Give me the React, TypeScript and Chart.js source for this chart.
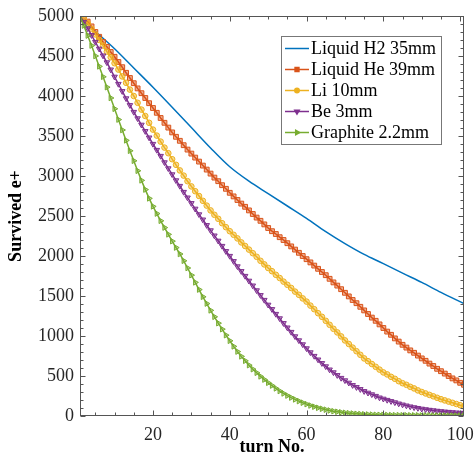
import React, { useEffect, useRef } from "react";
import { Chart, registerables } from "chart.js";
import { drawPoint } from "chart.js/helpers";

Chart.register(...registerables);

const seriesLabels = ["Liquid H2 35mm", "Liquid He 39mm", "Li 10mm", "Be 3mm", "Graphite 2.2mm"];
const seriesColors = ["#0072BD", "#D95319", "#EDB120", "#7E2F8E", "#77AC30"];
const xTickValues = [20, 40, 60, 80, 100];

// turn numbers (every turn 1..101) for the marker series
const turns = Array.from({ length: 101 }, (_, i) => i + 1);

// Liquid H2 (line only) sampled turns and values
const h2Turns = [1, 5, 10, 15, 20, 25, 30, 35, 40, 45, 50, 55, 60, 65, 70, 75, 80, 85, 90, 95, 101];
const h2Values = [5000, 4810, 4590, 4350, 4110, 3860, 3605, 3350, 3115, 2935, 2780, 2625, 2470, 2305, 2155, 2020, 1905, 1785, 1670, 1545, 1405];

const heValues = [
  5000, 4965, 4930, 4870, 4800, 4740, 4675, 4615, 4550, 4490,
  4425, 4360, 4290, 4225, 4160, 4095, 4035, 3975, 3910, 3850,
  3790, 3725, 3665, 3605, 3545, 3490, 3440, 3385, 3330, 3280,
  3230, 3180, 3130, 3080, 3030, 2980, 2935, 2885, 2840, 2790,
  2745, 2700, 2655, 2615, 2570, 2525, 2480, 2440, 2395, 2350,
  2310, 2275, 2235, 2200, 2160, 2120, 2080, 2040, 2000, 1960,
  1920, 1880, 1840, 1800, 1760, 1715, 1670, 1630, 1585, 1540,
  1495, 1450, 1410, 1365, 1320, 1275, 1230, 1190, 1145, 1100,
  1055, 1015, 970, 930, 890, 855, 820, 790, 755, 720,
  690, 655, 625, 590, 560, 530, 500, 470, 445, 415,
  390,
];

const liValues = [
  5000, 4960, 4910, 4840, 4770, 4700, 4630, 4555, 4485, 4410,
  4330, 4245, 4165, 4080, 4000, 3915, 3830, 3750, 3665, 3580,
  3505, 3430, 3355, 3285, 3210, 3140, 3070, 3005, 2935, 2870,
  2810, 2750, 2690, 2630, 2570, 2515, 2465, 2410, 2360, 2310,
  2265, 2220, 2170, 2125, 2080, 2035, 1990, 1940, 1895, 1850,
  1810, 1765, 1725, 1680, 1640, 1600, 1555, 1515, 1470, 1430,
  1380, 1335, 1285, 1240, 1190, 1140, 1090, 1045, 995, 945,
  900, 855, 810, 765, 720, 685, 650, 615, 580, 545,
  520, 490, 465, 435, 410, 390, 365, 345, 320, 300,
  282, 264, 246, 228, 210, 195, 180, 165, 150, 135,
  120,
];

const beValues = [
  5000, 4925, 4845, 4760, 4675, 4590, 4505, 4420, 4330, 4240,
  4150, 4060, 3970, 3885, 3800, 3720, 3640, 3560, 3480, 3400,
  3325, 3250, 3170, 3095, 3020, 2945, 2875, 2800, 2730, 2660,
  2590, 2520, 2455, 2385, 2320, 2255, 2190, 2125, 2060, 2000,
  1935, 1870, 1810, 1750, 1690, 1630, 1570, 1510, 1450, 1390,
  1335, 1275, 1220, 1160, 1105, 1050, 995, 945, 895, 845,
  795, 750, 705, 660, 620, 580, 545, 510, 475, 445,
  415, 385, 360, 335, 310, 290, 270, 250, 230, 215,
  200, 185, 170, 155, 142, 130, 118, 108, 99, 90,
  83, 76, 70, 64, 59, 54, 50, 46, 42, 39,
  36,
];

const graphiteValues = [
  5000, 4880, 4755, 4630, 4500, 4370, 4240, 4110, 3975, 3840,
  3705, 3575, 3445, 3315, 3190, 3065, 2945, 2830, 2720, 2620,
  2530, 2440, 2355, 2270, 2185, 2105, 2025, 1940, 1850, 1760,
  1670, 1580, 1490, 1405, 1320, 1240, 1160, 1085, 1010, 940,
  870, 805, 745, 690, 635, 585, 540, 495, 455, 415,
  380, 345, 312, 282, 255, 230, 207, 186, 166, 148,
  131, 116, 102, 90, 79, 69, 60, 53, 46, 40,
  35, 31, 27, 24, 21, 19, 17, 15, 14, 13,
  12, 11, 10, 10, 9, 9, 8, 8, 8, 7,
  7, 7, 6, 6, 6, 6, 5, 5, 5, 5,
  5,
];

const markerStyles = [
  { pointStyle: false as any, radius: 0, rotation: 0 },
  { pointStyle: "rect", radius: 3.4, rotation: 0 },
  { pointStyle: "circle", radius: 2.8, rotation: 0 },
  { pointStyle: "triangle", radius: 3.2, rotation: 180 },
  { pointStyle: "triangle", radius: 3.2, rotation: 90 },
];

const FONT = "'Liberation Serif', 'Times New Roman', serif";
const AXIS_COLOR = "#555555";

function hexA(hex: string, a: number) {
  const r = parseInt(hex.slice(1, 3), 16);
  const g = parseInt(hex.slice(3, 5), 16);
  const b = parseInt(hex.slice(5, 7), 16);
  return `rgba(${r},${g},${b},${a})`;
}

const framePlugin = {
  id: "frame",
  afterDatasetsDraw(chart: any) {
    const { ctx, chartArea: a, scales } = chart;
    const xs = scales.x;
    const ys = scales.y;
    ctx.save();
    ctx.strokeStyle = AXIS_COLOR;
    ctx.lineWidth = 1;
    const L = Math.round(a.left) + 0.5;
    const R = Math.round(a.right) - 0.5;
    const T = Math.round(a.top) + 0.5;
    const B = Math.round(a.bottom) - 0.5;
    ctx.strokeRect(L, T, R - L, B - T);
    ctx.beginPath();
    for (let v = 0; v <= 5000; v += 100) {
      const py = Math.round(ys.getPixelForValue(v)) + 0.5;
      const len = v % 500 === 0 ? 5 : 3;
      ctx.moveTo(L, py);
      ctx.lineTo(L + len, py);
      ctx.moveTo(R, py);
      ctx.lineTo(R - len, py);
    }
    for (let t = 5; t <= 100; t += 5) {
      const px = Math.round(xs.getPixelForValue(t)) + 0.5;
      const len = t % 20 === 0 ? 5 : 3;
      ctx.moveTo(px, B);
      ctx.lineTo(px, B - len);
      ctx.moveTo(px, T);
      ctx.lineTo(px, T + len);
    }
    ctx.stroke();
    ctx.restore();
  },
};

const legendPlugin = {
  id: "boxLegend",
  afterDraw(chart: any) {
    const { ctx } = chart;
    const left = 281;
    const top = 36;
    const width = 160;
    const height = 108;
    ctx.save();
    ctx.fillStyle = "#ffffff";
    ctx.fillRect(left, top, width, height);
    ctx.strokeStyle = "#777777";
    ctx.lineWidth = 1;
    ctx.strokeRect(left + 0.5, top + 0.5, width, height);
    ctx.font = `18px ${FONT}`;
    ctx.textBaseline = "middle";
    ctx.textAlign = "left";
    chart.data.datasets.forEach((ds: any, i: number) => {
      const y = top + 12.5 + i * 21;
      ctx.strokeStyle = ds.borderColor;
      ctx.lineWidth = 1.5;
      ctx.beginPath();
      ctx.moveTo(left + 4, y);
      ctx.lineTo(left + 28, y);
      ctx.stroke();
      const m = markerStyles[i];
      if (m.pointStyle) {
        ctx.fillStyle = ds.borderColor;
        ctx.strokeStyle = ds.borderColor;
        drawPoint(ctx, { pointStyle: m.pointStyle, radius: m.radius * 0.8, rotation: m.rotation, borderWidth: 1 }, left + 16, y);
      }
      ctx.fillStyle = "#000000";
      ctx.fillText(ds.label, left + 30, y + 1);
    });
    ctx.restore();
  },
};

export default function App() {
  const canvasRef = useRef<HTMLCanvasElement | null>(null);

  useEffect(() => {
    if (!canvasRef.current) return;
    const markerSeries = [heValues, liValues, beValues, graphiteValues];
    const datasets: any[] = [
      {
        label: seriesLabels[0],
        data: h2Turns.map((t, i) => ({ x: t, y: h2Values[i] })),
        borderColor: seriesColors[0],
        backgroundColor: seriesColors[0],
        borderWidth: 1.5,
        pointRadius: 0,
        cubicInterpolationMode: "monotone",
        order: 4,
      },
      ...markerSeries.map((vals, k) => {
        const i = k + 1;
        return {
          label: seriesLabels[i],
          data: turns.map((t, j) => ({ x: t, y: vals[j] })),
          borderColor: seriesColors[i],
          backgroundColor: hexA(seriesColors[i], 0.45),
          pointBorderColor: seriesColors[i],
          pointBackgroundColor: hexA(seriesColors[i], 0.45),
          borderWidth: 1.5,
          pointStyle: markerStyles[i].pointStyle,
          pointRadius: markerStyles[i].radius,
          pointRotation: markerStyles[i].rotation,
          pointBorderWidth: 1,
          tension: 0,
          order: 4 - i,
        };
      }),
    ];

    const chart = new Chart(canvasRef.current, {
      type: "line",
      data: { datasets },
      options: {
        animation: false,
        responsive: false,
        devicePixelRatio: 1,
        layout: { padding: { top: 16, right: 11, left: 0, bottom: 0 } },
        plugins: {
          legend: { display: false },
          tooltip: { enabled: false },
        },
        scales: {
          x: {
            type: "linear",
            min: 1,
            max: 101,
            grid: { display: false, drawTicks: false },
            border: { display: false },
            afterBuildTicks: (scale: any) => {
              scale.ticks = xTickValues.map((v) => ({ value: v }));
            },
            afterFit: (scale: any) => {
              scale.height = 43;
              scale.paddingLeft = 0;
              scale.paddingRight = 0;
            },
            ticks: {
              padding: 8,
              color: "#262626",
              font: { family: FONT, size: 18 },
              maxRotation: 0,
              autoSkip: false,
              callback: (v: any) => String(v),
            },
            title: {
              display: true,
              text: "turn No.",
              color: "#000000",
              font: { family: FONT, size: 18, weight: "bold" },
              padding: { top: 0, bottom: 1 },
            },
          },
          y: {
            type: "linear",
            min: 0,
            max: 5000,
            grid: { display: false, drawTicks: false },
            border: { display: false },
            afterFit: (scale: any) => {
              scale.width = 80;
              scale.paddingTop = 0;
              scale.paddingBottom = 0;
            },
            ticks: {
              stepSize: 500,
              padding: 6,
              color: "#262626",
              font: { family: FONT, size: 18 },
              autoSkip: false,
              callback: (v: any) => String(v),
            },
            title: {
              display: true,
              text: "Survived e+",
              color: "#000000",
              font: { family: FONT, size: 18, weight: "bold" },
              padding: { top: 6, bottom: 0 },
            },
          },
        },
      },
      plugins: [framePlugin, legendPlugin],
    });
    return () => chart.destroy();
  }, []);

  return (
    <div style={{ position: "absolute", left: 0, top: 0, width: 475, height: 459, background: "#ffffff" }}>
      <canvas ref={canvasRef} width={475} height={459} />
    </div>
  );
}
